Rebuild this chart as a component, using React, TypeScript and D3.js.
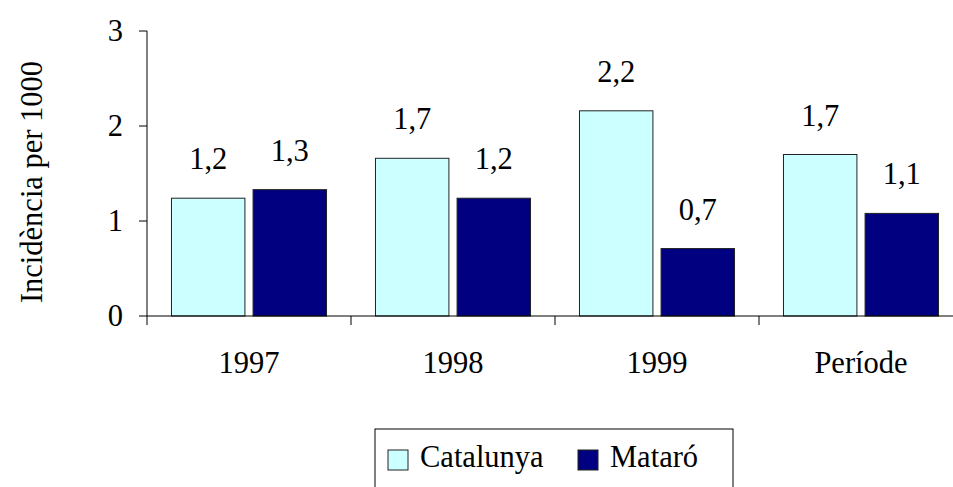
import React from "react";
import * as d3 from "d3";

const width = 953;
const height = 487;

const categories = ["1997", "1998", "1999", "Període"];
const seriesNames = ["Catalunya", "Mataró"];
const catalunya = [1.24, 1.66, 2.16, 1.7];
const mataro = [1.33, 1.24, 0.71, 1.08];
const yTicks = [0, 1, 2, 3];

const colors = ["#CCFFFF", "#000080"];
const font = "'Liberation Serif', 'Times New Roman', serif";

const x = d3.scaleBand<string>().domain(categories).range([147, 963]);
const x1 = d3
  .scaleBand<string>()
  .domain(seriesNames)
  .range([0, x.bandwidth()])
  .paddingInner(0.1)
  .paddingOuter(0.3);
const y = d3.scaleLinear().domain([0, 3]).range([316, 31]);

const fmt = (v: number) => v.toFixed(1).replace(".", ",");

const txt = { fontFamily: font, fontSize: "30.5px" };

export default function App() {
  const series = [catalunya, mataro];
  return (
    <svg
      width={width}
      height={height}
      style={{ position: "absolute", left: 0, top: 0, background: "#fff" }}
    >
      {/* y axis */}
      <line x1={147} x2={147} y1={y(3)} y2={y(0)} stroke="#000" strokeWidth={1} />
      {yTicks.map((t) => (
        <g key={t}>
          <line x1={139} x2={147} y1={y(t)} y2={y(t)} stroke="#000" />
          <text x={123} y={y(t) + 10} style={txt} textAnchor="end">
            {t}
          </text>
        </g>
      ))}
      <text transform={`translate(42,182) rotate(-90)`} style={txt} textAnchor="middle">
        Incidència per 1000
      </text>

      {/* bars */}
      {categories.map((c, i) => (
        <g key={c} transform={`translate(${x(c)},0)`}>
          {seriesNames.map((s, j) => {
            const v = series[j][i];
            const bx = x1(s)!;
            return (
              <g key={s}>
                <rect
                  x={bx}
                  y={y(v)}
                  width={x1.bandwidth()}
                  height={y(0) - y(v)}
                  fill={colors[j]}
                  stroke="#222"
                  strokeWidth={1}
                />
                <text
                  x={bx + x1.bandwidth() / 2}
                  y={y(v) - 29}
                  style={txt}
                  textAnchor="middle"
                >
                  {fmt(v)}
                </text>
              </g>
            );
          })}
        </g>
      ))}

      {/* x axis */}
      <line x1={147} x2={963} y1={y(0)} y2={y(0)} stroke="#000" />
      {categories.map((c) => (
        <g key={c}>
          <line x1={x(c)!} x2={x(c)!} y1={y(0)} y2={y(0) + 9} stroke="#000" />
          <text x={x(c)! + x.bandwidth() / 2} y={373} style={txt} textAnchor="middle">
            {c}
          </text>
        </g>
      ))}

      {/* legend */}
      <rect x={375} y={429} width={358} height={80} fill="none" stroke="#000" />
      {seriesNames.map((s, j) => {
        const lx = j === 0 ? 388 : 578;
        return (
          <g key={s}>
            <rect x={lx} y={450} width={20} height={20} fill={colors[j]} stroke="#222" />
            <text x={lx + 32} y={467} style={txt}>
              {s}
            </text>
          </g>
        );
      })}
    </svg>
  );
}
